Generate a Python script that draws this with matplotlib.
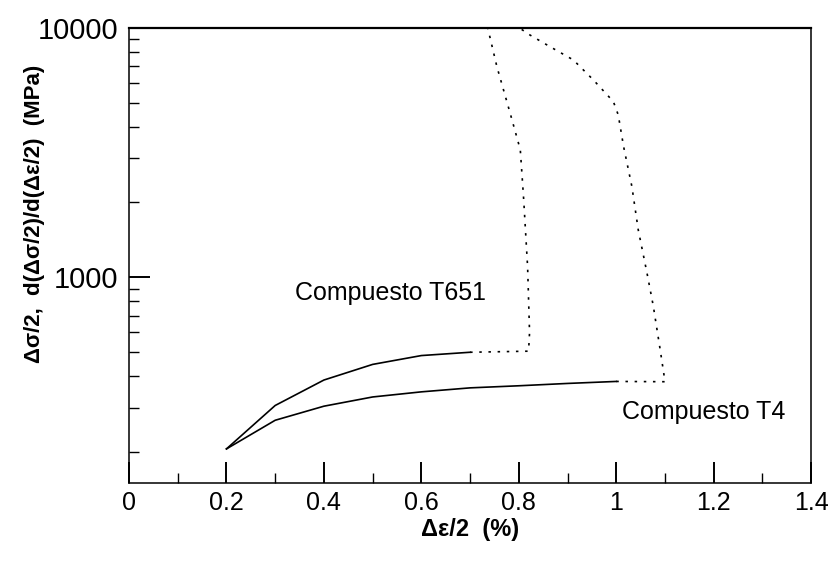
import numpy as np
import matplotlib
matplotlib.use('Agg')
from matplotlib import pyplot as plt
from matplotlib.ticker import FixedLocator, FuncFormatter, LogLocator, NullFormatter

plt.rcParams['font.family'] = ['Liberation Sans', 'DejaVu Sans']

# Compuesto T651
x_t651 = [0.2, 0.3, 0.4, 0.5, 0.6, 0.7]
y_t651 = [205, 306, 387, 447, 485, 500]
x_t651_dot = [0.7, 0.82, 0.822, 0.818, 0.81, 0.803, 0.782, 0.755, 0.736]
y_t651_dot = [500, 505, 600, 1100, 2040, 3240, 4550, 6970, 10000]

# Compuesto T4
x_t4 = [0.2, 0.3, 0.4, 0.5, 0.6, 0.7, 0.8, 0.9, 1.0]
y_t4 = [205, 267, 304, 331, 347, 360, 367, 375, 382]
x_t4_dot = [1.0, 1.1, 1.09, 1.076, 1.063, 1.045, 1.032, 1.015, 1.004, 0.994,
            0.953, 0.912, 0.864, 0.823, 0.80]
y_t4_dot = [382, 381, 513, 765, 1039, 1549, 2307, 3335, 4467, 5050,
            6166, 7413, 8380, 9330, 10000]

xticks = [0, 0.2, 0.4, 0.6, 0.8, 1.0, 1.2, 1.4]
yticks = [1000, 10000]

fig = plt.figure(figsize=(8.35, 5.62), dpi=100)
ax = fig.add_axes([0.1545, 0.141, 0.817, 0.81])

dot = (0, (1.5, 4))
ax.plot(x_t651, y_t651, color='black', lw=1.2)
ax.plot(x_t651_dot, y_t651_dot, color='black', lw=1.2, ls=dot)
ax.plot(x_t4, y_t4, color='black', lw=1.2)
ax.plot(x_t4_dot, y_t4_dot, color='black', lw=1.2, ls=dot)

ax.set_yscale('log')
ax.set_xlim(0, 1.4)
ax.set_ylim(150, 10000)

ax.xaxis.set_major_locator(FixedLocator(xticks))
ax.xaxis.set_minor_locator(FixedLocator(np.arange(0.1, 1.4, 0.2)))
ax.xaxis.set_major_formatter(FuncFormatter(lambda v, p: '%g' % v))
ax.yaxis.set_major_locator(FixedLocator(yticks))
ax.yaxis.set_minor_locator(LogLocator(base=10, subs=np.arange(2, 10)))
ax.yaxis.set_major_formatter(FuncFormatter(lambda v, p: '%d' % v))
ax.yaxis.set_minor_formatter(NullFormatter())

ax.tick_params(which='both', direction='in', top=False, right=False)
ax.tick_params(which='major', length=15, width=1.4)
ax.tick_params(which='minor', length=7, width=1.0)
ax.tick_params(axis='x', labelsize=18, pad=6)
ax.tick_params(axis='y', labelsize=21, pad=8)
for s in ax.spines.values():
    s.set_linewidth(1.1)
ax.spines['top'].set_linewidth(1.6)

ax.text(0.536, 860, 'Compuesto T651', fontsize=18, ha='center', va='center')
ax.text(1.18, 288, 'Compuesto T4', fontsize=18, ha='center', va='center')

ax.set_xlabel('Δε/2  (%)', fontsize=17, fontweight='bold', labelpad=2)
ax.set_ylabel('Δσ/2,  d(Δσ/2)/d(Δε/2)  (MPa)', fontsize=16,
              fontweight='bold')
ax.yaxis.set_label_coords(-0.123, 0.59)

fig.savefig('out.png', dpi=100)
